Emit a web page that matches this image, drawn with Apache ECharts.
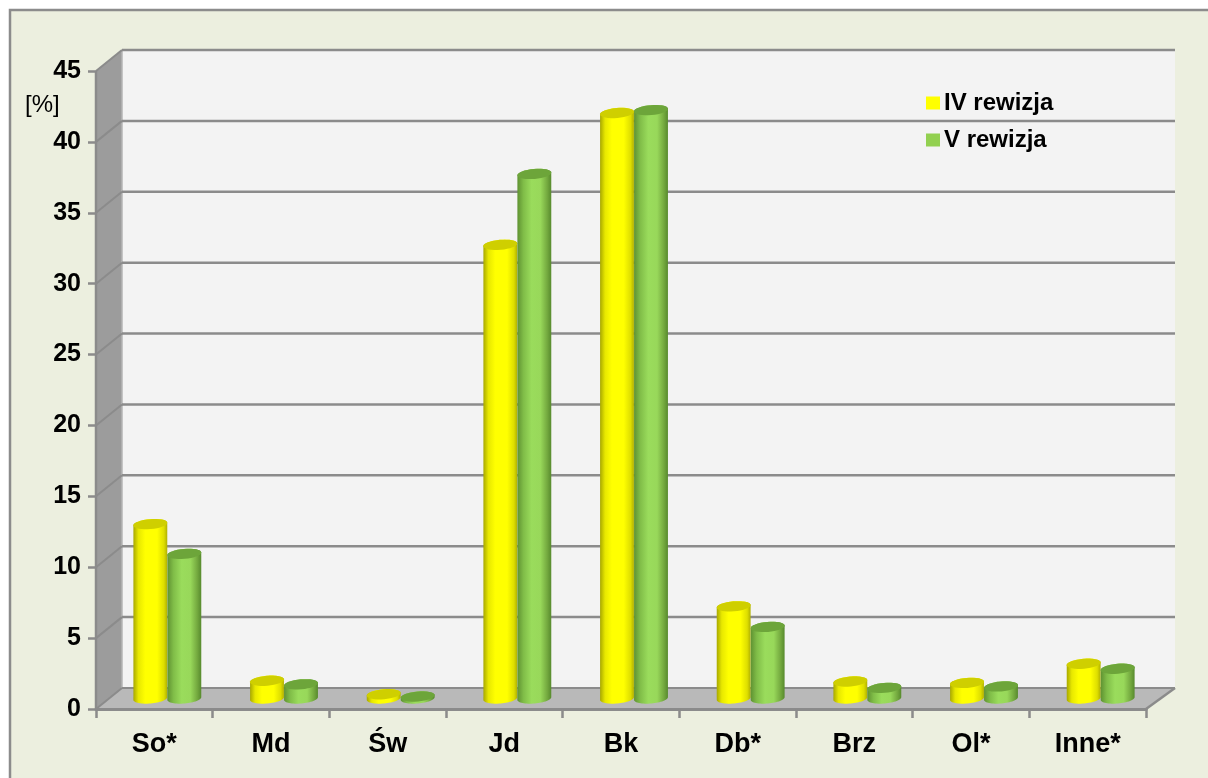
<!DOCTYPE html>
<html><head><meta charset="utf-8">
<style>html,body{margin:0;padding:0;background:#fff}#c{width:1208px;height:778px}</style>
<script src="https://cdn.jsdelivr.net/npm/echarts@6/dist/echarts.min.js"></script>
</head><body><div id="c"></div>
<script>
const categories = ['So*','Md','Św','Jd','Bk','Db*','Brz','Ol*','Inne*'];
const seriesIV = [12.3,1.25,0.3,32.0,41.3,6.5,1.2,1.1,2.45];
const seriesV  = [10.2,1.0,0.14,37.0,41.5,5.05,0.75,0.85,2.1];
const yTicks = [5,10,15,20,25,30,35,40,45];
const names = ['IV rewizja','V rewizja'];
const FONT = '"Liberation Sans", Arial, sans-serif';
const GRID_C = '#8b8b8b';
const DX = 26, DXR = 29, DY = 21, MIDX = 13, MIDY = 10.5, BW = 34, RY = 5, TILT = -5 * Math.PI / 180;

function ell(cx, cy, t) {
  const a = BW / 2 * Math.cos(t), b = RY * Math.sin(t);
  return [cx + a * Math.cos(TILT) - b * Math.sin(TILT), cy + a * Math.sin(TILT) + b * Math.cos(TILT)];
}
function arc(cx, cy, t0, t1) {
  const pts = [];
  for (let i = 0; i <= 32; i++) pts.push(ell(cx, cy, t0 + (t1 - t0) * i / 32));
  return pts;
}
function grad(stops) {
  return {type:'linear', x:0, y:0, x2:1, y2:0, colorStops: stops.map(s => ({offset:s[0], color:s[1]}))};
}
function cyl(side, stops, topColor) {
  return function (params, api) {
    const base = api.coord([api.value(0), 0]);
    const top = api.coord([api.value(0), api.value(1)]);
    const cx = base[0] + MIDX + side * BW / 2;
    const by = base[1] - MIDY, ty = top[1] - MIDY;
    const body = arc(cx, ty, Math.PI, 2 * Math.PI).concat(arc(cx, by, 0, Math.PI));
    return {type:'group', children:[
      {type:'polygon', shape:{points:body}, style:{fill:grad(stops)}},
      {type:'polygon', shape:{points:arc(cx, ty, 0, 2 * Math.PI)}, style:{fill:topColor}}
    ]};
  };
}
function walls(params, api) {
  const c = params.coordSys;
  const x0 = c.x, x1 = c.x + c.width;
  const y0 = api.coord([0, 0])[1], yTop = api.coord([0, 45])[1];
  const kids = [
    {type:'polygon', shape:{points:[[x0+DX,yTop-DY],[x1+DXR,yTop-DY],[x1+DXR,y0-DY],[x0+DX,y0-DY]]}, style:{fill:'#f3f3f3'}},
    {type:'polygon', shape:{points:[[x0,yTop],[x0+DX,yTop-DY],[x0+DX,y0-DY],[x0,y0]]}, style:{fill:'#9c9c9c'}},
    {type:'polygon', shape:{points:[[x0,y0],[x0+DX,y0-DY],[x1+DXR,y0-DY],[x1,y0]]}, style:{fill:'#b9b9b9'}},
    {type:'line', shape:{x1:x1,y1:y0,x2:x1+DXR,y2:y0-DY}, style:{stroke:GRID_C,lineWidth:2.5}},
    {type:'line', shape:{x1:x0+DX,y1:yTop-DY,x2:x0+DX,y2:y0-DY}, style:{stroke:'#b5b5b5',lineWidth:1.5}},
    {type:'line', shape:{x1:x0,y1:y0,x2:x0+DX,y2:y0-DY}, style:{stroke:GRID_C,lineWidth:2}},
    {type:'line', shape:{x1:x0+DX,y1:y0-DY,x2:x1+DXR,y2:y0-DY}, style:{stroke:GRID_C,lineWidth:2}},
    {type:'line', shape:{x1:x0,y1:yTop,x2:x0,y2:y0}, style:{stroke:GRID_C,lineWidth:2.5}}
  ];
  yTicks.forEach(v => {
    const y = api.coord([0, v])[1];
    kids.push({type:'line', shape:{x1:x0,y1:y,x2:x0+DX,y2:y-DY}, style:{stroke:GRID_C,lineWidth:2}});
    kids.push({type:'line', shape:{x1:x0+DX,y1:y-DY,x2:x1+DXR,y2:y-DY}, style:{stroke:GRID_C,lineWidth:2.5}});
  });
  return {type:'group', children:kids};
}
const yStops = [[0,'#a8a800'],[0.15,'#e8e800'],[0.35,'#ffff00'],[0.7,'#ffff00'],[0.9,'#dede00'],[1,'#b0b000']];
const gStops = [[0,'#5f9232'],[0.18,'#80bd48'],[0.42,'#9adc5c'],[0.68,'#98d85a'],[0.88,'#74a93f'],[1,'#578a2d']];

const chart = echarts.init(document.getElementById('c'), null, {renderer:'canvas', width:1208, height:778});
chart.setOption({
  animation:false,
  backgroundColor:'#ffffff',
  graphic:[
    {type:'rect', z:-10, shape:{x:10,y:10,width:1300,height:900}, style:{fill:'#ecefdf',stroke:'#8c8c8c',lineWidth:2.5}},
    {type:'text', z:5, x:25, y:93, style:{text:'[%]', fill:'#000', font:'24px '+FONT}}
  ],
  grid:{left:96, top:71, width:1050, height:638, containLabel:false},
  xAxis:{type:'category', data:categories, boundaryGap:true,
    axisLine:{show:true, lineStyle:{color:GRID_C,width:3}},
    axisTick:{show:true, alignWithLabel:false, length:9, lineStyle:{color:GRID_C,width:2.5}},
    axisLabel:{show:true, interval:0, color:'#000', fontFamily:FONT, fontWeight:'bold', fontSize:27, margin:22},
    splitLine:{show:false}},
  yAxis:{type:'value', min:0, max:45, interval:5,
    axisLine:{show:false},
    axisTick:{show:true, length:8, lineStyle:{color:GRID_C,width:2.5}},
    axisLabel:{show:true, color:'#000', fontFamily:FONT, fontWeight:'bold', fontSize:25, margin:15},
    splitLine:{show:false}},
  legend:{show:true, orient:'vertical', left:921, top:86, itemWidth:14, itemHeight:13, itemGap:13,
    icon:'rect', data:names, selectedMode:false,
    textStyle:{color:'#000', fontFamily:FONT, fontWeight:'bold', fontSize:24, padding:[0,0,0,-1]}},
  series:[
    {type:'custom', silent:true, z:-5, data:[[0,0]], encode:{x:0,y:1}, renderItem:walls, tooltip:{show:false}},
    {type:'custom', name:names[0], z:2, clip:false, itemStyle:{color:'#ffff00'},
      data:seriesIV.map((v,i)=>[i,v]), encode:{x:0,y:1}, renderItem:cyl(-1,yStops,'#cfcf00')},
    {type:'custom', name:names[1], z:2, clip:false, itemStyle:{color:'#92d050'},
      data:seriesV.map((v,i)=>[i,v]), encode:{x:0,y:1}, renderItem:cyl(1,gStops,'#6da53a')}
  ]
});
</script></body></html>
